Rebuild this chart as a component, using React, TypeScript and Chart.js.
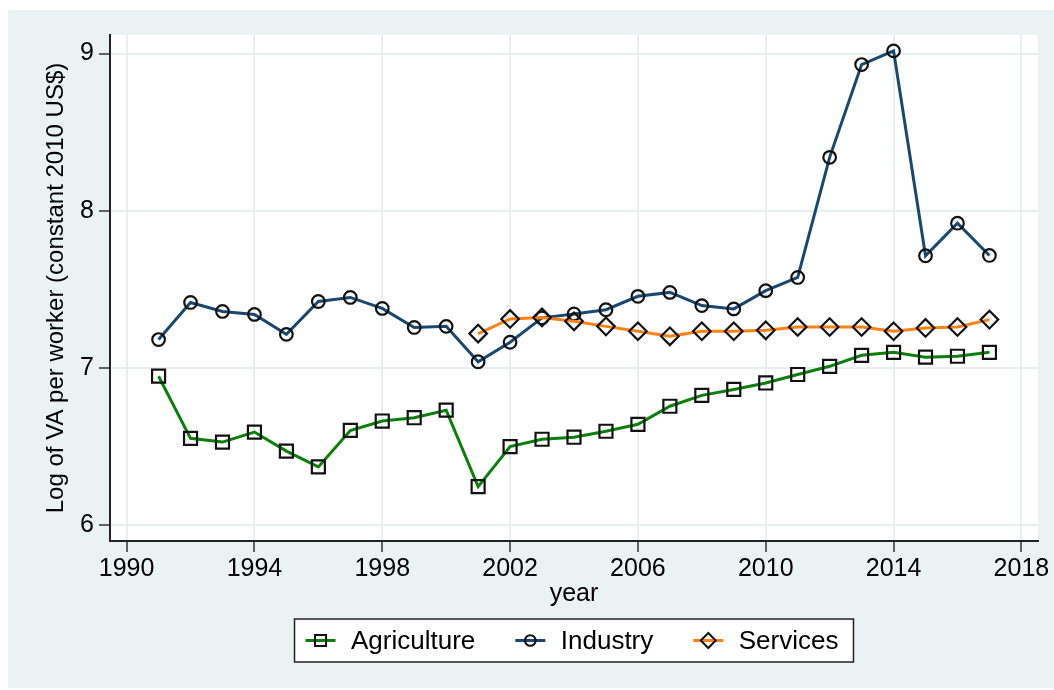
import React, { useEffect, useRef } from "react";
import { Chart, registerables } from "chart.js";

Chart.register(...registerables);

const YEARS = [1991, 1992, 1993, 1994, 1995, 1996, 1997, 1998, 1999, 2000, 2001, 2002, 2003, 2004, 2005, 2006, 2007, 2008, 2009, 2010, 2011, 2012, 2013, 2014, 2015, 2016, 2017];
const AGRICULTURE = [6.948, 6.553, 6.529, 6.593, 6.472, 6.371, 6.603, 6.663, 6.684, 6.732, 6.246, 6.500, 6.547, 6.560, 6.598, 6.642, 6.757, 6.826, 6.864, 6.905, 6.959, 7.011, 7.081, 7.100, 7.069, 7.075, 7.100];
const INDUSTRY = [7.181, 7.417, 7.360, 7.341, 7.214, 7.423, 7.449, 7.379, 7.258, 7.265, 7.040, 7.164, 7.319, 7.344, 7.371, 7.456, 7.481, 7.397, 7.376, 7.492, 7.576, 8.340, 8.930, 9.017, 7.714, 7.921, 7.716];
const SERVICES = [null, null, null, null, null, null, null, null, null, null, 7.219, 7.312, 7.322, 7.297, 7.265, 7.234, 7.202, 7.234, 7.234, 7.240, 7.261, 7.261, 7.261, 7.234, 7.255, 7.261, 7.308];

const X_TICKS = [1990, 1994, 1998, 2002, 2006, 2010, 2014, 2018];
const Y_TICKS = [6, 7, 8, 9];
const SERIES_NAMES = ["Agriculture", "Industry", "Services"];
const X_TITLE = "year";
const Y_TITLE = "Log of VA per worker (constant 2010 US$)";

const FONT = "'Liberation Sans', Arial, Helvetica, sans-serif";
const COLORS = ["#0A800A", "#1A476F", "#FF8211"];
const STYLES = ["rect", "circle", "rectRot"];
const RADII = [9.2, 6.3, 8.8];
const GRID = "#E6EFF1";
const BG = "#EAF2F3";

function toPoints(vals: (number | null)[]) {
  const out: { x: number; y: number }[] = [];
  vals.forEach((v, i) => {
    if (v !== null) out.push({ x: YEARS[i], y: v });
  });
  return out;
}

function drawMarker(ctx: CanvasRenderingContext2D, style: string, x: number, y: number, r: number) {
  ctx.beginPath();
  if (style === "rect") {
    const s = Math.SQRT1_2 * r;
    ctx.rect(x - s, y - s, 2 * s, 2 * s);
  } else if (style === "circle") {
    ctx.arc(x, y, r, 0, Math.PI * 2);
  } else {
    ctx.moveTo(x - r, y);
    ctx.lineTo(x, y - r);
    ctx.lineTo(x + r, y);
    ctx.lineTo(x, y + r);
    ctx.closePath();
  }
  ctx.stroke();
}

const plotBgPlugin = {
  id: "plotBg",
  beforeDraw(chart: any) {
    const { ctx, chartArea } = chart;
    ctx.save();
    ctx.fillStyle = "#FFFFFF";
    ctx.fillRect(chartArea.left, chartArea.top, chartArea.right - chartArea.left, chartArea.bottom - chartArea.top);
    ctx.restore();
  },
};

const boxLegendPlugin = {
  id: "boxLegend",
  afterDraw(chart: any) {
    const { ctx, chartArea } = chart;
    ctx.save();
    ctx.font = `26px ${FONT}`;
    const padL = 11, padR = 15, lineW = 30, gapText = 15.5, gapItem = 40;
    const widths = SERIES_NAMES.map((n) => ctx.measureText(n).width);
    const total = padL + padR + SERIES_NAMES.length * (lineW + gapText) + widths.reduce((a, b) => a + b, 0) + gapItem * (SERIES_NAMES.length - 1);
    const cx = (chartArea.left + chartArea.right) / 2;
    const left = cx - total / 2;
    const top = chartArea.bottom + 78;
    const h = 43;
    ctx.fillStyle = "#FFFFFF";
    ctx.fillRect(left, top, total, h);
    ctx.strokeStyle = "#222";
    ctx.lineWidth = 1.5;
    ctx.strokeRect(left, top, total, h);
    const cy = top + h / 2;
    let x = left + padL;
    SERIES_NAMES.forEach((name, i) => {
      ctx.strokeStyle = COLORS[i];
      ctx.lineWidth = 3;
      ctx.beginPath();
      ctx.moveTo(x, cy);
      ctx.lineTo(x + lineW, cy);
      ctx.stroke();
      ctx.strokeStyle = "#111";
      ctx.lineWidth = 2;
      drawMarker(ctx, STYLES[i], x + lineW / 2, cy, RADII[i] * 0.85);
      x += lineW + gapText;
      ctx.fillStyle = "#000";
      ctx.textBaseline = "middle";
      ctx.textAlign = "left";
      ctx.fillText(name, x, cy + 1);
      x += widths[i] + gapItem;
    });
    ctx.restore();
  },
};

export default function App() {
  const ref = useRef<HTMLCanvasElement>(null);

  useEffect(() => {
    if (!ref.current) return;
    const datasets = [AGRICULTURE, INDUSTRY, SERVICES].map((vals, i) => ({
      label: SERIES_NAMES[i],
      data: toPoints(vals),
      borderColor: COLORS[i],
      borderWidth: 3,
      backgroundColor: COLORS[i],
      pointStyle: STYLES[i],
      pointRadius: RADII[i],
      pointBorderColor: "#111",
      pointBorderWidth: 2.2,
      pointBackgroundColor: "rgba(0,0,0,0)",
      tension: 0,
      order: 2 - i,
    }));

    const chart = new Chart(ref.current, {
      type: "line",
      data: { datasets },
      options: {
        animation: false,
        responsive: false,
        events: [],
        layout: { padding: { left: 0, top: 25, right: 16, bottom: 77 } },
        plugins: {
          legend: { display: false },
          tooltip: { enabled: false },
        },
        scales: {
          x: {
            type: "linear",
            min: 1989.48,
            max: 2018.52,
            afterBuildTicks: (s: any) => {
              s.ticks = X_TICKS.map((v) => ({ value: v }));
            },
            afterFit: (s: any) => {
              s.height = 70;
            },
            ticks: {
              color: "#000",
              font: { family: FONT, size: 25 },
              padding: 2,
              maxRotation: 0,
              autoSkip: false,
              callback: (v: any) => String(v),
            },
            grid: {
              color: GRID,
              lineWidth: 2,
              tickColor: "#333",
              tickLength: 11,
              tickWidth: 1.5,
            },
            border: { display: true, color: "#222", width: 2 },
            title: {
              display: true,
              text: X_TITLE,
              color: "#000",
              font: { family: FONT, size: 25 },
              padding: { top: 0, bottom: 2 },
            },
          },
          y: {
            type: "linear",
            min: 5.9,
            max: 9.118,
            afterBuildTicks: (s: any) => {
              s.ticks = Y_TICKS.map((v) => ({ value: v }));
            },
            afterFit: (s: any) => {
              s.width = 102;
            },
            ticks: {
              color: "#000",
              font: { family: FONT, size: 25 },
              padding: 5,
              callback: (v: any) => String(v),
            },
            grid: {
              color: GRID,
              lineWidth: 2,
              tickColor: "#333",
              tickLength: 11,
              tickWidth: 1.5,
            },
            border: { display: true, color: "#222", width: 2 },
            title: {
              display: true,
              text: Y_TITLE,
              color: "#000",
              font: { family: FONT, size: 24 },
              padding: { top: 34, bottom: 0 },
            },
          },
        },
      },
      plugins: [plotBgPlugin, boxLegendPlugin],
    });
    return () => chart.destroy();
  }, []);

  return (
    <div style={{ position: "absolute", left: 8, top: 10, width: 1046, height: 678, background: BG }}>
      <canvas ref={ref} width={1046} height={678} style={{ width: 1046, height: 678, display: "block" }} />
    </div>
  );
}
